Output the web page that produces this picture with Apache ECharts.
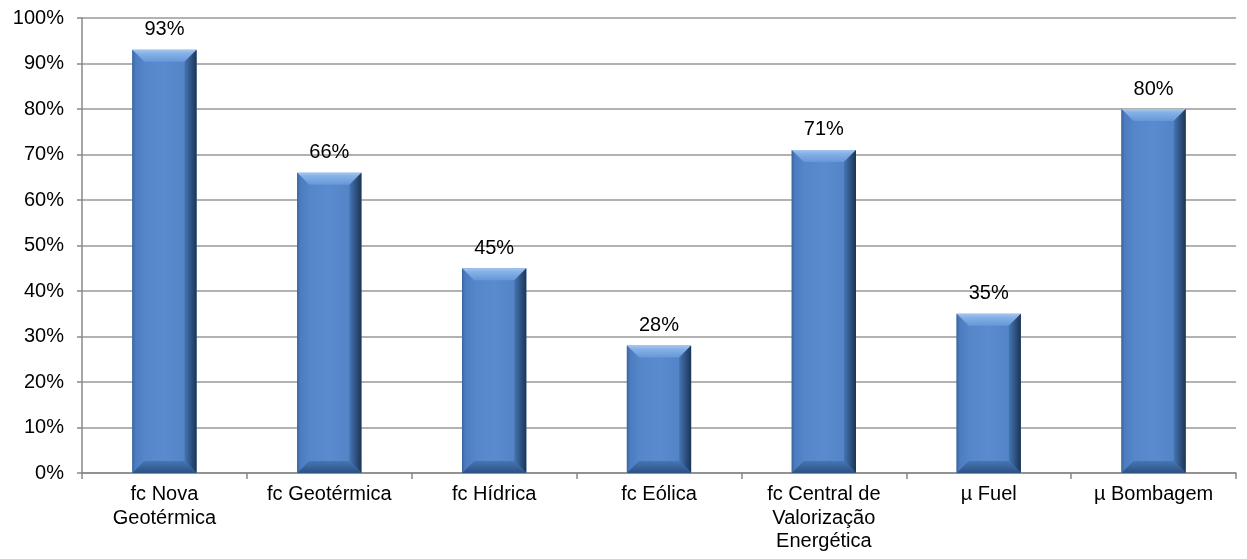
<!DOCTYPE html>
<html><head><meta charset="utf-8">
<script src="https://cdn.jsdelivr.net/npm/echarts@6/dist/echarts.min.js"></script>
<style>html,body{margin:0;padding:0;background:#fff}#c{width:1247px;height:559px}</style>
</head><body><div id="c"></div>
<script>
var categories = ['fc Nova\nGeotérmica', 'fc Geotérmica', 'fc Hídrica', 'fc Eólica', 'fc Central de\nValorização\nEnergética', 'µ Fuel', 'µ Bombagem'];
var values = [93, 66, 45, 28, 71, 35, 80];
var yTicks = [0, 10, 20, 30, 40, 50, 60, 70, 80, 90, 100];

var chart = echarts.init(document.getElementById('c'), null, {renderer: 'canvas'});
var font = 'Liberation Sans, Arial, sans-serif';
function renderItem(params, api) {
  var i = api.value(0), v = api.value(1);
  var top = api.coord([i, v]);
  var bot = api.coord([i, 0]);
  var band = api.size([1, 0])[0];
  var w = band * 0.39;
  var x0 = top[0] - w / 2, x1 = top[0] + w / 2, y0 = top[1], y1 = bot[1];
  var b = 12;
  var G = echarts.graphic;
  return {
    type: 'group',
    children: [
      {type: 'rect', shape: {x: x0, y: y0, width: w, height: y1 - y0},
        style: {fill: new G.LinearGradient(0, 0, 1, 0, [{offset: 0, color: '#5283c5'}, {offset: 0.5, color: '#5a8bcf'}, {offset: 1, color: '#4f80c1'}])}},
      {type: 'polygon', shape: {points: [[x0, y0], [x1, y0], [x1 - b, y0 + b], [x0 + b, y0 + b]]},
        style: {fill: new G.LinearGradient(0, 0, 0, 1, [{offset: 0, color: '#a4c6f0'}, {offset: 0.3, color: '#86b1e6'}, {offset: 1, color: '#6597d8'}])}},
      {type: 'polygon', shape: {points: [[x0, y0], [x0 + b, y0 + b], [x0 + b, y1 - b], [x0, y1]]},
        style: {fill: new G.LinearGradient(0, 0, 1, 0, [{offset: 0, color: '#3a649c'}, {offset: 0.25, color: '#4b7cbf'}, {offset: 1, color: '#5385c8'}])}},
      {type: 'polygon', shape: {points: [[x1, y0], [x1, y1], [x1 - b, y1 - b], [x1 - b, y0 + b]]},
        style: {fill: new G.LinearGradient(0, 0, 1, 0, [{offset: 0, color: '#4575b4'}, {offset: 1, color: '#1c3455'}])}},
      {type: 'polygon', shape: {points: [[x0, y1], [x1, y1], [x1 - b, y1 - b], [x0 + b, y1 - b]]},
        style: {fill: new G.LinearGradient(0, 0, 0, 1, [{offset: 0, color: '#4776b3'}, {offset: 1, color: '#2c5183'}])}},
      {type: 'text', x: top[0], y: y0 - 10,
        style: {text: v + '%', fill: '#000', font: '20px ' + font, align: 'center', verticalAlign: 'bottom'}}
    ]
  };
}
chart.setOption({
  animation: false,
  grid: {left: 82, right: 11, top: 18, bottom: 86, containLabel: false},
  xAxis: {
    type: 'category', data: categories,
    axisLine: {show: true, lineStyle: {color: '#888', width: 1.5}},
    axisTick: {show: true, length: 6, alignWithLabel: false, lineStyle: {color: '#888', width: 1.5}},
    axisLabel: {color: '#000', fontSize: 20, fontFamily: font, margin: 10, lineHeight: 23.5, interval: 0}
  },
  yAxis: {
    type: 'value', min: 0, max: 100, interval: 10,
    axisLine: {show: true, lineStyle: {color: '#888', width: 1.5}},
    axisTick: {show: true, length: 5, lineStyle: {color: '#888', width: 1.5}},
    splitLine: {show: true, lineStyle: {color: '#999', width: 1.5}},
    axisLabel: {color: '#000', fontSize: 20, fontFamily: font, margin: 18,
      formatter: function (val) { return yTicks.indexOf(val) >= 0 ? val + '%' : ''; }}
  },
  series: [{
    type: 'custom', renderItem: renderItem,
    data: values.map(function (v, i) { return [i, v]; }),
    encode: {x: 0, y: 1}
  }]
});
</script></body></html>
